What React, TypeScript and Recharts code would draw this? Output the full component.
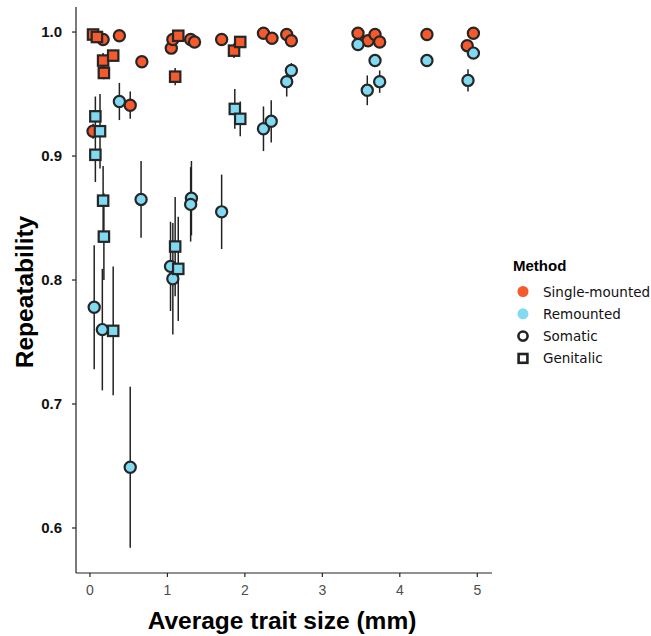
import React from 'react';
import { ScatterChart, Scatter, XAxis, YAxis, ErrorBar } from 'recharts';

// [average trait size (mm), repeatability, error half-width]
const singleSomatic: [number, number, number][] = [
  [0.17, 0.994, 0], [0.38, 0.997, 0], [1.05, 0.987, 0.004], [1.07, 0.994, 0],
  [1.30, 0.994, 0], [1.35, 0.992, 0], [1.70, 0.994, 0], [0.67, 0.976, 0.004],
  [0.52, 0.941, 0.011], [0.04, 0.920, 0.006], [2.24, 0.999, 0], [2.35, 0.995, 0],
  [2.54, 0.998, 0], [2.60, 0.993, 0], [3.46, 0.999, 0], [3.59, 0.993, 0],
  [3.68, 0.998, 0], [3.74, 0.992, 0], [4.35, 0.998, 0], [4.95, 0.999, 0],
  [4.87, 0.989, 0.003],
];
const singleGenitalic: [number, number, number][] = [
  [0.04, 0.998, 0], [0.09, 0.996, 0], [0.17, 0.977, 0.006], [0.30, 0.981, 0],
  [0.18, 0.967, 0.005], [1.14, 0.997, 0], [1.10, 0.964, 0.007], [1.86, 0.985, 0.006],
  [1.94, 0.992, 0],
];
const remountedSomatic: [number, number, number][] = [
  [0.38, 0.944, 0.015], [0.055, 0.778, 0.05], [0.16, 0.760, 0.049], [0.52, 0.649, 0.065],
  [0.66, 0.865, 0.031], [1.31, 0.866, 0.03], [1.30, 0.861, 0.03], [1.70, 0.855, 0.03],
  [1.04, 0.811, 0.036], [1.07, 0.801, 0.045], [2.60, 0.969, 0.006], [2.54, 0.960, 0.012],
  [2.24, 0.922, 0.018], [2.34, 0.928, 0.017], [3.46, 0.990, 0.003], [3.68, 0.977, 0.005],
  [3.58, 0.953, 0.012], [3.74, 0.960, 0.009], [4.35, 0.977, 0.003], [4.95, 0.983, 0.004],
  [4.88, 0.961, 0.009],
];
const remountedGenitalic: [number, number, number][] = [
  [0.07, 0.932, 0.016], [0.13, 0.920, 0.03], [0.07, 0.901, 0.022], [0.17, 0.864, 0.028],
  [0.18, 0.835, 0.035], [0.30, 0.759, 0.052], [1.10, 0.827, 0.04], [1.14, 0.809, 0.042],
  [1.87, 0.938, 0.016], [1.94, 0.930, 0.014],
];

const xTicks = [0, 1, 2, 3, 4, 5];
const yTicks = [0.6, 0.7, 0.8, 0.9, 1.0];
const methodLabels = ['Single-mounted', 'Remounted'];
const typeLabels = ['Somatic', 'Genitalic'];

const ORANGE = '#F65A2C';
const BLUE = '#80DAF2';
const EDGE = '#262626';
const SANS = '"Liberation Sans", Arial, sans-serif';

const toRows = (arr: [number, number, number][]) => arr.map(([x, y, err]) => ({ x, y, err }));

const dSingleSomatic = toRows(singleSomatic);
const dSingleGenitalic = toRows(singleGenitalic);
const dRemSomatic = toRows(remountedSomatic);
const dRemGenitalic = toRows(remountedGenitalic);
const allRows = [...dSingleSomatic, ...dSingleGenitalic, ...dRemSomatic, ...dRemGenitalic];

const circleShape = (fill: string) => (p: any) => (
  <circle cx={p.cx} cy={p.cy} r={5.6} fill={fill} stroke={EDGE} strokeWidth={2.2} />
);
const squareShape = (fill: string) => (p: any) => (
  <rect x={p.cx - 5.2} y={p.cy - 5.2} width={10.4} height={10.4} fill={fill} stroke={EDGE} strokeWidth={2.2} />
);
const emptyShape = () => <g />;

const YLabel = () => (
  <text
    x={33}
    y={292}
    transform="rotate(-90 33 292)"
    textAnchor="middle"
    fontFamily={SANS}
    fontWeight="bold"
    fontSize={24.5}
    fill="#000"
  >
    Repeatability
  </text>
);
const XLabel = () => (
  <text x={282} y={629} textAnchor="middle" fontFamily={SANS} fontWeight="bold" fontSize={24.5} fill="#000">
    Average trait size (mm)
  </text>
);

const Legend = () => {
  const rows = [
    { label: methodLabels[0], kind: 'dot', color: ORANGE },
    { label: methodLabels[1], kind: 'dot', color: BLUE },
    { label: typeLabels[0], kind: 'circle', color: '#222' },
    { label: typeLabels[1], kind: 'square', color: '#222' },
  ];
  return (
    <svg width={151} height={130} style={{ position: 'absolute', left: 500, top: 250 }}>
      <text x={13} y={21} fontFamily={SANS} fontWeight="bold" fontSize={15} fill="#000">
        Method
      </text>
      {rows.map((r, i) => {
        const cy = 41.5 + i * 22.3;
        return (
          <g key={r.label}>
            {r.kind === 'dot' && <circle cx={23} cy={cy} r={5.5} fill={r.color} />}
            {r.kind === 'circle' && <circle cx={23} cy={cy} r={4.6} fill="none" stroke={r.color} strokeWidth={2.6} />}
            {r.kind === 'square' && (
              <rect x={18.6} y={cy - 4.4} width={8.8} height={8.8} fill="none" stroke={r.color} strokeWidth={2.6} />
            )}
            <text x={43} y={cy + 5} fontFamily='"DejaVu Sans", Verdana, sans-serif' fontSize={13.5} fill="#111">
              {r.label}
            </text>
          </g>
        );
      })}
    </svg>
  );
};

export default function App() {
  return (
    <div style={{ position: 'absolute', left: 0, top: 0, width: 651, height: 636, background: '#fff' }}>
      <ScatterChart width={651} height={636} margin={{ top: 7, right: 159, bottom: 13, left: 16 }}>
        <XAxis
          type="number"
          dataKey="x"
          domain={[-0.18, 5.19]}
          ticks={xTicks}
          allowDataOverflow
          height={50}
          tickSize={4}
          tickMargin={8}
          stroke="#222"
          strokeWidth={1.2}
          tick={{ fontSize: 14, fill: '#4d4d4d', fontFamily: SANS }}
          label={XLabel}
        />
        <YAxis
          type="number"
          dataKey="y"
          domain={[0.5637, 1.0202]}
          ticks={yTicks}
          allowDataOverflow
          width={60}
          tickSize={4}
          tickMargin={10}
          stroke="#222"
          strokeWidth={1.2}
          tickFormatter={(v: number) => v.toFixed(1)}
          tick={{ fontSize: 15, fontWeight: 'bold', fill: '#111', fontFamily: SANS }}
          label={YLabel}
        />
        <Scatter data={allRows} shape={emptyShape} isAnimationActive={false} legendType="none">
          <ErrorBar dataKey="err" direction="y" width={0} stroke="#222" strokeWidth={1.5} />
        </Scatter>
        <Scatter data={dSingleSomatic} shape={circleShape(ORANGE)} isAnimationActive={false} />
        <Scatter data={dSingleGenitalic} shape={squareShape(ORANGE)} isAnimationActive={false} />
        <Scatter data={dRemSomatic} shape={circleShape(BLUE)} isAnimationActive={false} />
        <Scatter data={dRemGenitalic} shape={squareShape(BLUE)} isAnimationActive={false} />
      </ScatterChart>
      <Legend />
    </div>
  );
}
